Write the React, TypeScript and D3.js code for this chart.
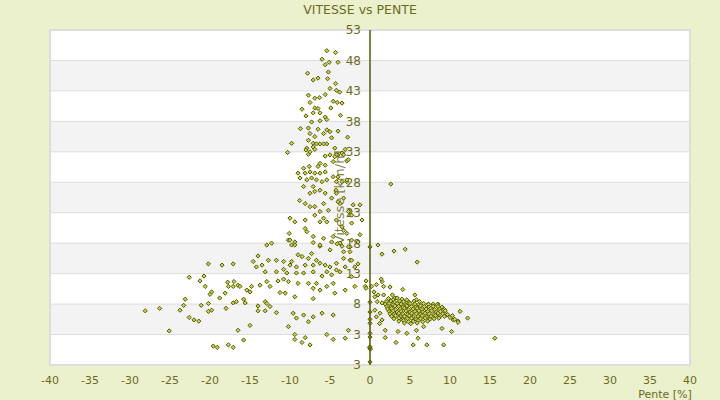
import React from "react";
import * as d3 from "d3";

// [pente %, vitesse km/h]
const descenteHaute: [number, number][] = [
  [-5.4, 49.6], [-4.3, 49.3], [-6.0, 48.2], [-5.1, 47.7], [-5.6, 47.3], [-4.0, 47.7], [-7.8, 45.9], [-5.2, 46.1],
  [-7.1, 44.8], [-6.5, 45.1], [-5.3, 45.0], [-4.3, 44.2], [-5.0, 43.4], [-4.2, 43.1], [-3.8, 42.8], [-5.6, 42.4],
  [-7.7, 42.3], [-6.9, 41.8], [-6.3, 41.9], [-4.6, 41.3], [-4.1, 41.1], [-3.5, 41.0], [-7.5, 41.1], [-8.5, 40.0],
  [-6.9, 40.2], [-6.5, 40.1], [-4.9, 40.2], [-8.0, 38.9], [-7.1, 39.4], [-6.25, 39.4], [-3.7, 39.0], [-5.6, 38.7],
  [-5.4, 38.3], [-6.25, 38.1], [-7.3, 37.9], [-8.7, 36.8], [-7.7, 36.9], [-6.5, 36.7], [-5.4, 36.6], [-5.0, 36.3],
  [-4.0, 36.4], [-7.5, 36.0], [-6.9, 35.5], [-5.8, 36.0], [-4.8, 35.3], [-2.8, 35.4], [-7.7, 34.9], [-7.1, 34.4],
  [-6.25, 34.3], [-5.4, 34.3], [-9.8, 34.4], [-7.9, 33.6], [-6.9, 33.4], [-4.4, 33.6], [-3.1, 33.4], [-10.3, 32.9],
  [-7.7, 32.6], [-5.6, 32.3], [-4.0, 32.5], [-8.0, 33.3], [-7.5, 33.0], [-7.1, 33.8], [-6.7, 34.3], [-5.8, 34.3],
  [-5.0, 32.5], [-4.2, 32.5], [-3.5, 32.8], [-2.9, 31.5], [-4.6, 31.4], [-5.6, 30.8], [-6.25, 31.1], [-6.5, 30.6],
  [-7.6, 30.6], [-8.3, 30.3], [-9.0, 29.5], [-8.1, 29.5], [-7.5, 29.7], [-6.9, 29.5], [-6.25, 29.5], [-5.6, 29.7],
  [-8.75, 28.7], [-7.9, 28.4], [-7.3, 28.7], [-6.7, 28.4], [-6.0, 28.1], [-5.4, 28.4], [-4.2, 28.1], [-2.9, 28.1],
  [-8.3, 27.3], [-7.1, 27.3], [-6.25, 26.7], [-7.5, 26.2], [-6.9, 26.5], [-5.6, 26.2], [-4.2, 26.2], [-4.8, 25.4],
  [-8.8, 25.0], [-8.1, 24.5], [-7.5, 24.0], [-6.9, 24.0], [-6.25, 23.2], [-5.8, 24.5], [-5.2, 23.4], [-3.75, 24.5],
  [-2.1, 24.3], [-1.25, 24.3], [-2.5, 23.2], [-2.3, 22.6], [-10.0, 22.1], [-9.4, 21.5], [-8.1, 21.8], [-6.9, 22.6],
  [-5.8, 22.1], [-5.4, 21.5], [-6.25, 21.5], [-4.2, 21.8], [-3.5, 20.7], [-2.3, 21.3], [-10.1, 19.6], [-8.1, 20.4],
  [-7.9, 19.9], [-7.1, 19.1], [-5.8, 18.8], [-4.6, 19.1], [-2.9, 19.6], [-9.4, 18.2], [-10.2, 18.5], [-3.75, 18.0],
  [-2.3, 18.5], [-1.5, 18.2], [-12.3, 18.0], [-9.8, 17.7], [-6.25, 17.5], [-2.5, 17.4],
  [-1.0, 21.8], [-1.25, 19.4], [-2.7, 17.4], [-3.3, 20.1], [-4.25, 26.7], [-4.6, 28.9], [-4.0, 28.9], [-3.5, 28.1],
  [-2.9, 28.4], [-3.3, 25.4], [-4.0, 24.8], [-2.7, 23.2], [-4.4, 32.2], [-3.3, 32.5], [-2.7, 31.7],
];

const descenteBasse: [number, number][] = [
  [-12.9, 17.7], [-10.0, 18.5], [-9.4, 17.7], [-7.1, 18.1], [-6.25, 17.7], [-4.8, 18.2], [-4.1, 17.9], [-3.5, 17.5],
  [-5.0, 16.9], [-3.3, 16.6], [-2.5, 16.6], [-14.0, 15.9], [-12.7, 15.2], [-14.6, 15.0], [-13.5, 14.4], [-14.2, 14.1],
  [-11.7, 15.2], [-10.8, 15.0], [-9.8, 15.0], [-9.0, 16.1], [-8.5, 15.8], [-10.0, 14.4], [-7.7, 15.5], [-7.3, 16.3],
  [-6.7, 15.2], [-6.25, 14.7], [-5.6, 14.4], [-7.1, 14.4], [-8.1, 14.4], [-9.2, 14.1], [-10.8, 13.7], [-5.0, 14.1],
  [-4.2, 14.7], [-3.3, 15.5], [-2.5, 15.2], [-1.5, 14.6], [-3.1, 14.1], [-13.1, 13.3], [-11.7, 13.3], [-10.4, 13.1],
  [-9.2, 13.1], [-8.3, 13.1], [-7.1, 13.3], [-6.0, 12.6], [-5.4, 13.3], [-4.8, 12.8], [-4.2, 13.6], [-3.75, 13.3],
  [-2.3, 12.5], [-14.8, 10.9], [-13.75, 11.1], [-12.9, 11.7], [-12.5, 10.9], [-11.5, 11.8], [-10.8, 12.1], [-10.2, 11.7],
  [-9.0, 11.4], [-7.7, 11.4], [-6.7, 11.4], [-7.1, 10.6], [-6.25, 10.3], [-5.4, 10.9], [-4.6, 11.4], [-4.4, 9.8],
  [-3.1, 10.3], [-1.9, 10.9], [-0.6, 10.9], [-11.25, 9.9], [-10.6, 9.8], [-9.4, 9.2], [-7.1, 8.9], [-13.1, 8.4],
  [-12.9, 8.1], [-14.0, 7.7], [-12.5, 7.6], [-14.0, 6.9], [-13.1, 6.9], [-11.7, 6.6], [-9.6, 6.5], [-9.2, 5.7],
  [-8.3, 6.2], [-7.1, 5.9], [-6.0, 6.5], [-4.6, 6.2], [-7.7, 5.1], [-10.2, 4.3], [-5.4, 3.0], [-4.6, 2.2],
  [-3.1, 2.4], [-2.7, 3.7], [-9.4, 3.0], [-9.4, 2.2], [-8.5, 1.7], [-8.1, 2.5], [-7.5, 1.3],
  [-1.9, 14.1], [-2.3, 15.2], [-0.5, 11.8], [-0.5, 10.6],
  [-28.1, 6.9], [-26.3, 7.3], [-25.1, 3.6], [-23.75, 7.0], [-23.3, 7.8], [-23.1, 8.8], [-22.6, 12.4], [-22.6, 5.8],
  [-22.0, 5.4], [-21.4, 5.2], [-21.1, 7.8], [-21.25, 11.8], [-20.75, 12.6], [-20.6, 10.9], [-20.2, 14.6], [-20.2, 8.1],
  [-20.2, 6.8], [-19.8, 7.0], [-20.0, 9.6], [-19.8, 10.0], [-18.8, 9.0], [-18.5, 14.4], [-18.1, 9.8], [-18.0, 7.3],
  [-17.8, 11.6], [-17.7, 10.9], [-17.1, 14.6], [-17.0, 11.7], [-17.1, 8.2], [-16.7, 8.4], [-16.5, 11.1], [-17.1, 10.9],
  [-16.25, 10.9], [-15.8, 8.8], [-15.6, 8.2], [-15.4, 10.3], [-15.0, 10.0], [-16.5, 3.7], [-15.8, 2.1], [-19.6, 1.1],
  [-19.1, 0.9], [-17.7, 1.3], [-17.1, 0.9], [-15.0, 4.5],
];

const monteeEparse: [number, number][] = [
  [2.6, 27.7], [1.0, 17.7], [1.5, 16.2], [3.0, 16.7], [4.4, 17.0], [5.9, 14.9],
  [0.2, 10.9], [0.8, 11.2], [1.5, 11.7], [1.7, 10.9], [1.4, 12.1], [0.5, 10.0], [0.6, 9.2], [1.0, 9.5], [1.7, 9.5],
  [2.5, 10.8], [4.1, 10.4], [2.8, 9.5], [0.9, 8.4], [1.5, 8.2], [2.5, 8.7], [3.1, 9.0], [5.6, 9.5], [0.6, 7.0],
  [1.25, 6.5], [0.8, 5.9], [1.5, 5.4], [1.2, 4.8], [1.9, 3.7], [3.5, 3.5], [4.6, 3.2], [5.8, 3.7], [6.7, 4.3],
  [1.9, 2.5], [3.25, 1.7], [6.0, 2.4], [7.1, 1.3], [9.2, 1.3], [5.4, 1.3], [10.2, 3.5], [9.0, 4.0], [10.4, 5.4],
  [11.0, 5.2], [11.25, 6.8], [12.2, 5.7], [15.6, 2.4], [8.5, 8.0], [7.3, 8.0], [5.8, 8.7], [8.75, 7.3], [9.6, 6.2],
  [10.0, 5.8], [10.6, 5.5], [11.0, 5.0], [10.3, 6.1],
];

const monteeDense: [number, number][] = [
  [2.3, 8.9], [2.9, 8.7], [3.4, 9.0], [4.0, 8.8], [4.6, 8.7],
  [2.0, 8.4], [2.6, 8.5], [3.1, 8.3], [3.7, 8.5], [4.2, 8.4], [4.9, 8.3], [5.5, 8.5], [6.2, 8.4],
  [1.9, 8.0], [2.4, 8.1], [2.9, 7.9], [3.4, 8.1], [3.9, 8.0], [4.5, 7.9], [5.0, 8.1], [5.6, 8.0], [6.1, 7.9],
  [6.7, 8.1], [7.3, 7.95], [7.9, 8.0], [8.4, 7.9],
  [2.1, 7.6], [2.6, 7.5], [3.1, 7.7], [3.6, 7.6], [4.1, 7.5], [4.6, 7.7], [5.2, 7.6], [5.7, 7.5], [6.3, 7.7],
  [6.8, 7.6], [7.4, 7.5], [7.9, 7.65], [8.5, 7.6], [9.0, 7.5],
  [2.2, 7.2], [2.7, 7.3], [3.2, 7.1], [3.8, 7.2], [4.3, 7.3], [4.8, 7.1], [5.4, 7.2], [5.9, 7.3], [6.5, 7.1],
  [7.0, 7.2], [7.6, 7.3], [8.1, 7.1], [8.7, 7.2], [9.3, 7.1],
  [2.4, 6.8], [2.9, 6.9], [3.4, 6.7], [3.9, 6.8], [4.5, 6.9], [5.0, 6.7], [5.6, 6.8], [6.1, 6.9], [6.6, 6.7],
  [7.2, 6.8], [7.7, 6.9], [8.3, 6.7], [8.8, 6.8], [9.4, 6.9],
  [2.5, 6.4], [3.0, 6.3], [3.6, 6.5], [4.1, 6.4], [4.7, 6.3], [5.2, 6.5], [5.8, 6.4], [6.3, 6.3], [6.9, 6.5],
  [7.4, 6.4], [8.0, 6.3], [8.5, 6.5], [9.1, 6.4], [9.7, 6.3],
  [2.7, 6.0], [3.2, 6.1], [3.8, 5.9], [4.3, 6.0], [4.9, 6.1], [5.4, 5.9], [6.0, 6.0], [6.5, 6.1], [7.1, 5.9],
  [7.6, 6.0], [8.2, 6.1], [8.7, 5.9], [9.3, 6.0],
  [3.0, 5.6], [3.6, 5.7], [4.1, 5.5], [4.7, 5.6], [5.2, 5.7], [5.8, 5.5], [6.3, 5.6], [6.9, 5.7], [7.5, 5.5],
  [8.0, 5.6], [8.6, 5.7],
  [3.6, 5.2], [4.2, 5.3], [4.8, 5.1], [5.4, 5.2], [6.0, 5.3], [6.6, 5.1], [7.2, 5.2],
  [4.3, 4.9], [5.1, 4.8], [5.9, 4.9],
];

const surAxe: [number, number][] = [
  [0, 17.4], [0, 8.3], [0, 6.7], [0, 5.5], [0, 4.85], [0, 3.2], [0, 2.6], [0, 0.75], [0.05, 0.6], [-0.05, 0.9],
  [0, 1.0], [0, -1.5],
];

const xTicks = [-40, -35, -30, -25, -20, -15, -10, -5, 0, 5, 10, 15, 20, 25, 30, 35, 40];
const yTicks = [53, 48, 43, 38, 33, 28, 23, 18, 13, 8, 3, -2];
const yTickLabels = ["53", "48", "43", "38", "33", "28", "23", "18", "13", "8", "3", "3"];

const W = 720;
const H = 400;
const bg = "#ebf0cd";
const ink = "#6b6b1e";
const olive = "#555a00";

export default function App() {
  const x = d3.scaleLinear().domain([-40, 40]).range([50, 690]);
  const y = d3.scaleLinear().domain([-2, 53]).range([365, 30]);
  const all = [...descenteHaute, ...descenteBasse, ...monteeEparse, ...monteeDense, ...surAxe];
  const marker = "M0,-2.1L2.1,0L0,2.1L-2.1,0Z";
  const font = "DejaVu Sans, Verdana, sans-serif";

  return (
    <svg width={W} height={H} style={{ position: "absolute", left: 0, top: 0 }} fontFamily={font}>
      <rect width={W} height={H} fill={bg} />
      <rect x={x(-40)} y={y(53)} width={x(40) - x(-40)} height={y(-2) - y(53)} fill="#fff" />
      {d3.pairs(yTicks).map(([a, b], i) =>
        i % 2 === 1 ? (
          <rect key={i} x={x(-40)} y={y(a)} width={x(40) - x(-40)} height={y(b) - y(a)} fill="#f3f3f3" />
        ) : null
      )}
      {yTicks.map((t) => (
        <line key={t} x1={x(-40)} x2={x(40)} y1={y(t)} y2={y(t)} stroke="#dddddd" strokeWidth={1} />
      ))}
      <rect x={x(-40)} y={y(53)} width={x(40) - x(-40)} height={y(-2) - y(53)} fill="none" stroke="#dddddd" strokeWidth={2} />

      <text x={W / 2} y={14} textAnchor="middle" fontSize={12.5} fill={ink}>VITESSE vs PENTE</text>

      {yTicks.map((t, i) => (
        <text key={t} x={x(0) - 9} y={y(t)} dy="0.36em" textAnchor="end" fontSize={12} fill={ink}>
          {yTickLabels[i]}
        </text>
      ))}
      <text
        transform={`translate(${x(0) - 31},${(y(53) + y(-2)) / 2}) rotate(-90)`}
        textAnchor="middle"
        dy="0.36em"
        fontSize={13}
        fill={ink}
        opacity={0.85}
      >
        Vitesse [km/h]
      </text>

      {all.map(([p, v], i) => (
        <path
          key={i}
          d={marker}
          transform={`translate(${x(p)},${y(v)})`}
          fill="#c9d05a"
          stroke={olive}
          strokeWidth={1}
        />
      ))}

      <line x1={x(0)} x2={x(0)} y1={y(53)} y2={y(-2)} stroke={olive} strokeWidth={1.5} />

      {xTicks.map((t) => (
        <text key={t} x={x(t)} y={384} textAnchor="middle" fontSize={11} fill={ink}>
          {t}
        </text>
      ))}
      <text x={665} y={398} textAnchor="middle" fontSize={11} fill={ink}>Pente [%]</text>
    </svg>
  );
}
